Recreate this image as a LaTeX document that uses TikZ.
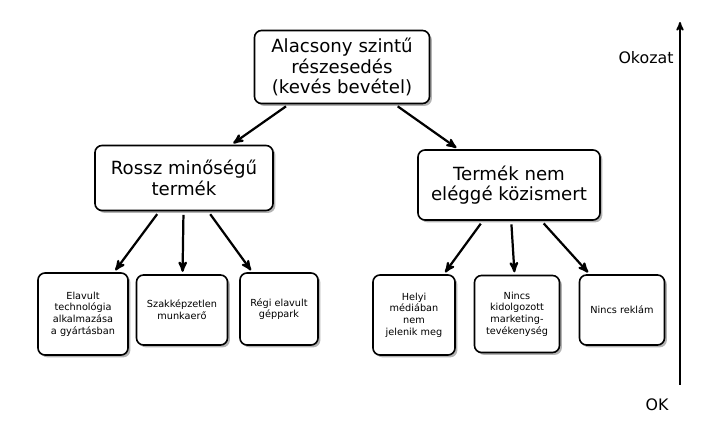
\documentclass[tikz,border=0pt]{standalone}
\usepackage{fontspec}
\setmainfont{DejaVu Sans}
\usetikzlibrary{arrows,shadows}

\begin{document}
\begin{tikzpicture}[x=0.03cm,y=-0.03cm,->,>=stealth',line width=1.9pt,
    cause box/.style={rectangle,rounded corners=6pt,draw,line width=1.4pt,fill=white,
      drop shadow={shadow xshift=2pt,shadow yshift=-2pt,opacity=0.6},
      align=center,inner sep=2pt},
    big box/.style={cause box,font=\fontsize{15.5}{17.5}\selectfont},
    leaf box/.style={cause box,font=\fontsize{8.3}{10}\selectfont}]
  \useasboundingbox (0,0) rectangle (714,426);

  \node[big box,minimum width=175*0.03cm,minimum height=73*0.03cm] (TOP) at (342,67)
    {Alacsony szintű\\részesedés\\(kevés bevétel)};
  \node[big box,minimum width=178*0.03cm,minimum height=65*0.03cm] (QUAL) at (184,178)
    {Rossz minőségű\\termék};
  \node[big box,minimum width=182*0.03cm,minimum height=70*0.03cm] (KNOWN) at (509,185)
    {Termék nem\\eléggé közismert};

  \node[leaf box,minimum width=90*0.03cm,minimum height=82*0.03cm] (TECH) at (83,314)
    {Elavult\\technológia\\alkalmazása\\a gyártásban};
  \node[leaf box,minimum width=91*0.03cm,minimum height=70*0.03cm] (LABOR) at (182,310)
    {Szakképzetlen\\munkaerő};
  \node[leaf box,minimum width=78*0.03cm,minimum height=72*0.03cm] (MACH) at (279,309)
    {Régi elavult\\géppark};
  \node[leaf box,minimum width=82*0.03cm,minimum height=80*0.03cm] (MEDIA) at (414,315)
    {Helyi\\médiában\\nem\\jelenik meg};
  \node[leaf box,minimum width=85*0.03cm,minimum height=77*0.03cm] (MKT) at (517,314)
    {Nincs\\kidolgozott\\marketing-\\tevékenység};
  \node[leaf box,minimum width=85*0.03cm,minimum height=70*0.03cm] (ADV) at (622,310)
    {Nincs reklám};

  \node (OKOZAT) at (646,58) {\fontsize{13.5}{15}\selectfont Okozat};
  \node (OK) at (657,405) {\fontsize{13.5}{15}\selectfont OK};
  \coordinate (AXLOW) at (680,385);
  \coordinate (AXHIGH) at (680,22);

  \path[shorten >=2pt,shorten <=3pt]
    (TOP) edge (QUAL)
    (TOP) edge (KNOWN)
    (QUAL) edge (TECH)
    (QUAL) edge (LABOR)
    (QUAL) edge (MACH)
    (KNOWN) edge (MEDIA)
    (KNOWN) edge (MKT)
    (KNOWN) edge (ADV);
  \draw[line width=1.5pt] (AXLOW) -- (AXHIGH);
\end{tikzpicture}
\end{document}
